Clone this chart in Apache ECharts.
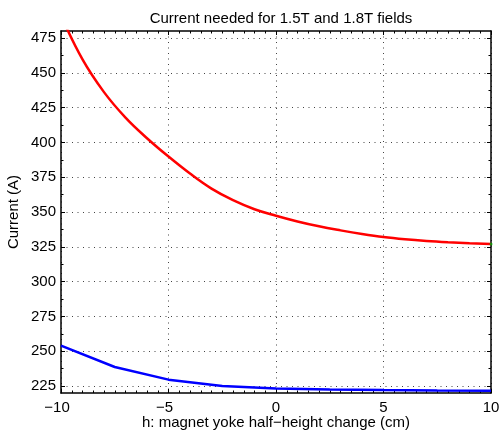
<!DOCTYPE html>
<html>
<head>
<meta charset="utf-8">
<title>Current needed for 1.5T and 1.8T fields</title>
<script src="https://cdn.jsdelivr.net/npm/echarts@6/dist/echarts.min.js"></script>
<style>
html, body { margin: 0; padding: 0; background: #fff; }
#chart { width: 502px; height: 433px; }
</style>
</head>
<body>
<div id="chart"></div>
<script>
// h: magnet yoke half-height change (cm)
const hFine = [-10, -9, -8, -7, -6, -5, -4, -3, -2, -1, 0, 1, 2, 3, 4, 5, 6, 7, 8, 9, 10]
const current18T = [491, 459.6, 436.1, 417.8, 403, 389.8, 377.6, 366.8, 358.5, 352, 347.3,
  343.2, 339.7, 336.8, 334.2, 332, 330.4, 329.2, 328.3, 327.6, 327.1]

const hCoarse = [-10, -7.5, -5, -2.5, 0, 2.5, 5, 7.5, 10]
const current15T = [254, 238.7, 229.6, 225, 223.2, 222.5, 222.1, 221.8, 221.7]

const endMarker = [[10, 327.1]]

const xTicks = [-10, -5, 0, 5, 10]
const yTicks = [225, 250, 275, 300, 325, 350, 375, 400, 425, 450, 475]
const yMinorTicks = [237.5, 262.5, 287.5, 312.5, 337.5, 362.5, 387.5, 412.5, 437.5, 462.5]

const fontFamily = "'Liberation Sans', Arial, sans-serif"
const gridDots = { show: true, lineStyle: { color: '#444', width: 1, type: [1, 4.5] } }
const boxLine = { show: true, onZero: false, lineStyle: { color: '#000', width: 1.5 } }

const minus = v => String(v).replace('-', '\u2212')

const xAxisFor = (position, withLabels) => ({
  type: 'value',
  position,
  min: -10,
  max: 10,
  interval: 5,
  axisLine: boxLine,
  axisTick: { inside: true, length: 4, customValues: xTicks, lineStyle: { color: '#000' } },
  minorTick: { show: true, splitNumber: 10, length: 2.5, lineStyle: { color: '#000' } },
  splitLine: withLabels ? gridDots : { show: false },
  axisLabel: withLabels ? {
    customValues: xTicks,
    margin: 7,
    color: '#000',
    fontSize: 15,
    fontFamily,
    formatter: v => v < 0 ? '{n|' + minus(v) + '}' : String(v),
    rich: { n: { padding: [0, 8, 0, 0], fontSize: 15, fontFamily, color: '#000' } },
  } : { show: false },
  name: withLabels ? 'h: magnet yoke half\u2212height change (cm)' : '',
  nameLocation: 'middle',
  nameGap: 22,
  nameMoveOverlap: false,
  nameTextStyle: { fontSize: 15, fontFamily, color: '#000' },
})

const yAxisFor = (position, ticks, len, withLabels, withLine) => ({
  type: 'value',
  position,
  min: 220,
  max: 480,
  axisLine: withLine ? boxLine : { show: false, onZero: false },
  axisTick: { inside: true, length: len, customValues: ticks, lineStyle: { color: '#000' } },
  splitLine: withLabels ? gridDots : { show: false },
  axisLabel: withLabels ? {
    customValues: ticks,
    margin: 5,
    color: '#000',
    fontSize: 15,
    fontFamily,
  } : { show: false },
  name: withLabels ? 'Current (A)' : '',
  nameLocation: 'middle',
  nameGap: 40,
  nameMoveOverlap: false,
  nameTextStyle: { fontSize: 15, fontFamily, color: '#000' },
})

const chart = echarts.init(document.getElementById('chart'))

const option = {
  animation: false,
  backgroundColor: '#fff',
  title: {
    text: 'Current needed for 1.5T and 1.8T fields',
    left: 276,
    top: 6,
    textAlign: 'center',
    textStyle: { fontSize: 15, fontWeight: 'normal', color: '#000', fontFamily },
  },
  grid: { left: 61, right: 11, top: 31, bottom: 40, outerBoundsMode: 'none' },
  xAxis: [xAxisFor('bottom', true), xAxisFor('top', false)],
  yAxis: [
    yAxisFor('left', yTicks, 4, true, true),
    yAxisFor('right', yTicks, 4, false, true),
    yAxisFor('left', yMinorTicks, 2.5, false, false),
    yAxisFor('right', yMinorTicks, 2.5, false, false),
  ],
  series: [
    {
      name: '1.8T',
      type: 'line',
      data: hFine.map((h, i) => [h, current18T[i]]),
      smooth: 0.4,
      showSymbol: false,
      lineStyle: { color: '#ff0000', width: 2.5 },
      itemStyle: { color: '#ff0000' },
      z: 3,
    },
    {
      name: '1.5T',
      type: 'line',
      data: hCoarse.map((h, i) => [h, current15T[i]]),
      showSymbol: false,
      lineStyle: { color: '#0000ff', width: 2.5 },
      itemStyle: { color: '#0000ff' },
      z: 3,
    },
    {
      name: 'end',
      type: 'scatter',
      data: endMarker,
      symbolSize: 3,
      itemStyle: { color: '#00a000' },
      z: 4,
    },
  ],
}

chart.setOption(option)
window.addEventListener('resize', () => chart.resize())
</script>
</body>
</html>
